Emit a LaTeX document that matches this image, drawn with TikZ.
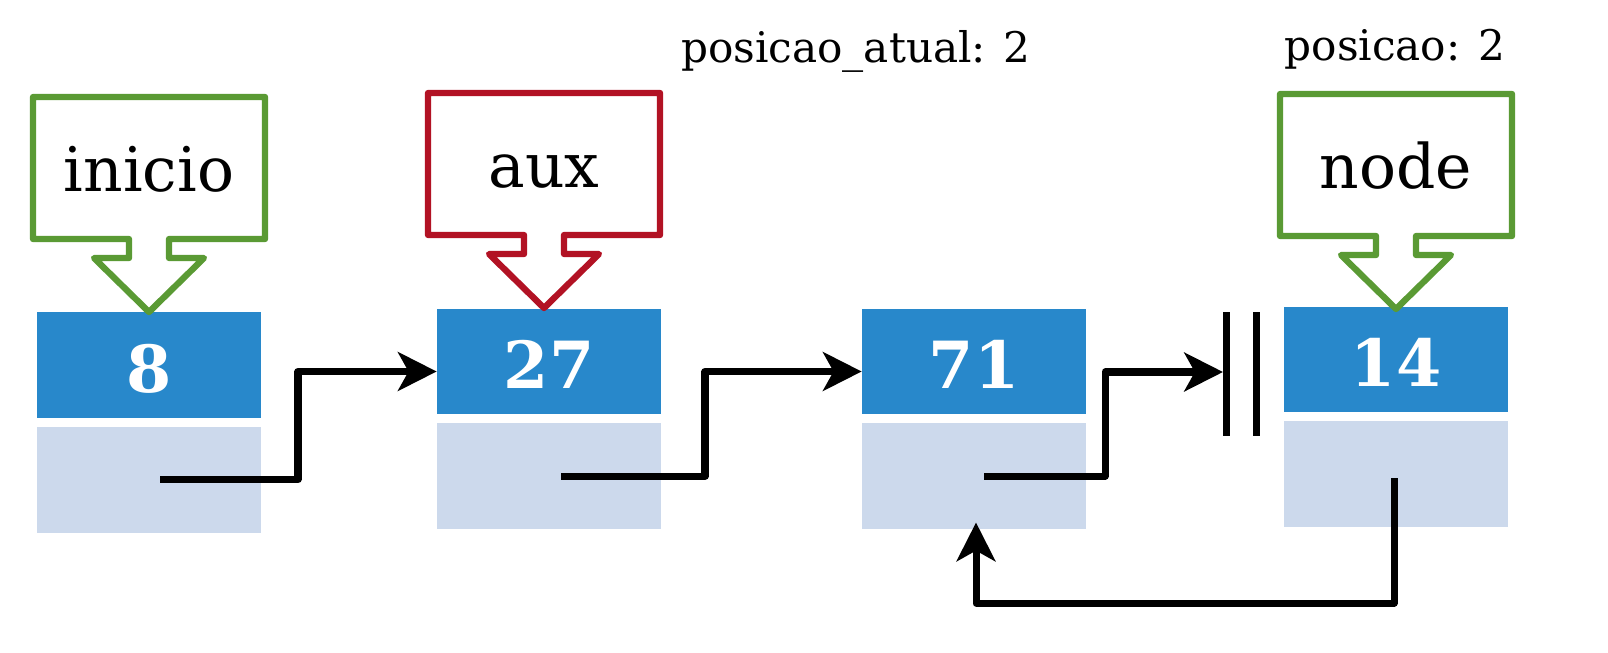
\documentclass[tikz,border=0pt]{standalone}
\usepackage{fontspec}
\setmainfont{DejaVu Serif}
\usetikzlibrary{positioning,calc,arrows.meta}
\definecolor{azul}{RGB}{40,136,203}
\definecolor{azulclaro}{RGB}{204,217,236}
\definecolor{verde}{RGB}{90,154,52}
\definecolor{vermelho}{RGB}{178,18,36}

\begin{document}
\begin{tikzpicture}[x=0.02cm,y=-0.02cm,
    dado/.style={fill=azul,text=white,inner sep=0pt,minimum width=4.48cm,minimum height=2.12cm,
      text height=31pt,text depth=0pt,font=\fontsize{37}{40}\selectfont\bfseries},
    prox/.style={fill=azulclaro,inner sep=0pt,minimum width=4.48cm,minimum height=2.12cm},
    rotulo/.style={inner sep=0pt,minimum width=4.64cm,minimum height=2.84cm,
      text height=27pt,text depth=0pt,font=\fontsize{35}{40}\selectfont},
    caixa/.style={line width=3.6pt,line join=round,fill=white},
    info/.style={font=\fontsize{24}{28}\selectfont},
    seta/.style={-{Stealth[length=22pt,width=22pt,inset=6pt]},line width=4pt,line join=round},
    barra/.style={line width=4pt}]
  \useasboundingbox (0,0) rectangle (1608,652);

  % elementos da lista
  \node[dado] (b1) at (149,365)   {8};
  \node[dado] (b2) at (549,361.5) {27};
  \node[dado] (b3) at (974,361.5) {71};
  \node[dado] (b4) at (1396,359.5){14};
  \foreach \i in {1,...,4}
    \node[prox,below=0.16cm of b\i] (l\i) {};

  % ponteiros
  \foreach \nm/\cor/\px/\py in {inicio/verde/149/168, aux/vermelho/544/164, node/verde/1396/165}{
    \draw[caixa,draw=\cor] (\px-116,\py-71) -- (\px+116,\py-71) -- (\px+116,\py+71)
      -- ++(-96,0) -- ++(0,19) -- ++(35,0) -- ++(-55,54) -- ++(-55,-54) -- ++(35,0)
      -- ++(0,-19) -- (\px-116,\py+71) -- cycle;
    \node[rotulo] (c\nm) at (\px,\py) {\nm};
  }

  \node[info] (posatual) at (856,51)  {posicao\_atual: 2};
  \node[info] (pos)      at (1395,49) {posicao: 2};

  % ligacoes
  \draw[seta] ($(l1.center)+(11,0)$) -- ++(138,0) |- ($(b2.west)+(0,10)$);
  \draw[seta] ($(l2.center)+(12,0)$) -- ++(144,0) |- ($(b3.west)+(0,10)$);
  \coordinate (fim) at (1223,372);
  \draw[seta] ($(l3.center)+(10,0)$) -- ++(121,0) |- (fim);
  \draw[barra] (1226,312) -- (1226,436);
  \draw[barra] (1256,312) -- (1256,436);
  \draw[seta] ($(l4.center)+(-2,4)$) -- ++(0,125) -| ($(l3.south)+(2,-7)$);
\end{tikzpicture}
\end{document}
